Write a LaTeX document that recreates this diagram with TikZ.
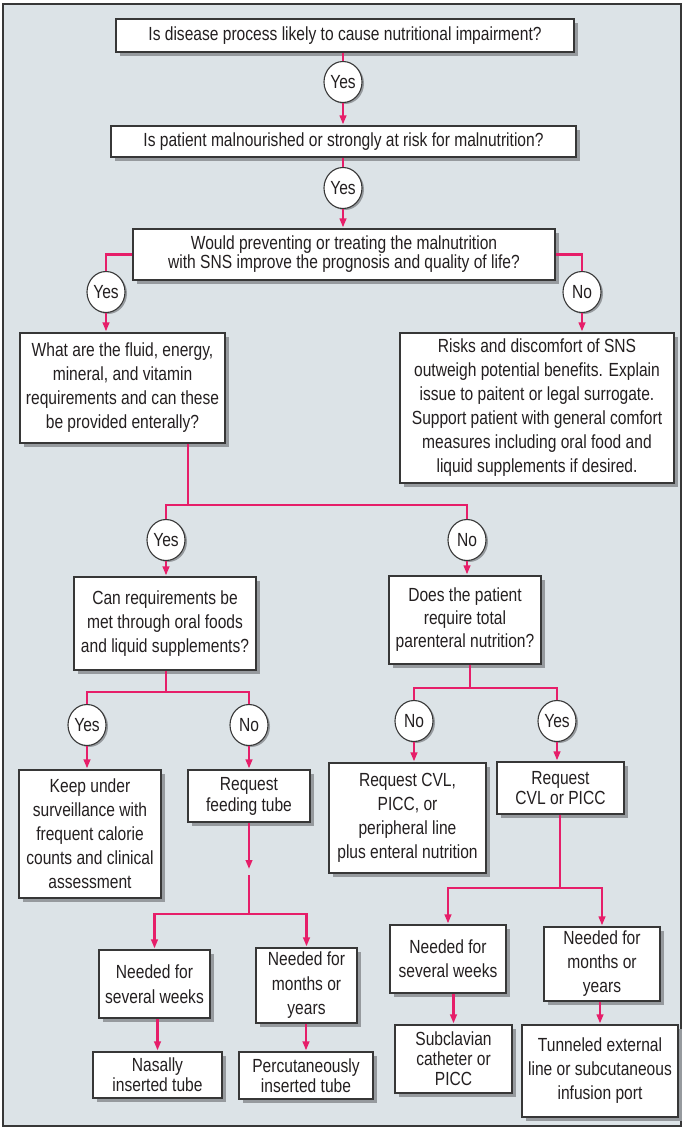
\documentclass[tikz,border=0pt]{standalone}
\usepackage{fontspec}
\setmainfont{Liberation Sans}[FakeStretch=0.82]
\usetikzlibrary{shadows,arrows.meta,shapes.geometric}
\definecolor{panel}{RGB}{220,227,231}
\definecolor{edge}{RGB}{55,55,55}
\definecolor{shade}{RGB}{150,154,158}
\definecolor{flow}{RGB}{230,30,105}
\definecolor{ink}{RGB}{35,31,32}

\tikzset{
  box/.style={draw=edge, line width=1.1pt, fill=white, inner sep=0pt, align=center, text=ink,
    drop shadow={shadow xshift=4pt, shadow yshift=-4pt, fill=shade, opacity=1}},
  lead/.style={font=\fontsize{19}{#1}\selectfont},
  answer/.style={ellipse, draw=edge, line width=1.1pt, fill=white, inner sep=0pt,
    minimum width=38pt, minimum height=41pt, text=ink, font=\fontsize{19}{20}\selectfont,
    drop shadow={shadow xshift=2pt, shadow yshift=-1.5pt, fill=shade, opacity=1}},
  link/.style={draw=flow, line width=2.2pt},
  flowarrow/.style={link, -{Triangle[length=9pt,width=6.5pt]}, shorten >=1pt},
}

\begin{document}
\begin{tikzpicture}[x=1pt,y=-1pt]
\useasboundingbox (0,0) rectangle (684,1128);
% panel
\fill[panel] (3,4) rectangle (681,1126);
\draw[edge, line width=1.4pt] (3,4) rectangle (681,1126);

% question and action boxes
\node[box, lead=20, minimum width=458pt, minimum height=33pt] (b1) at (345,35.5)
  {Is disease process likely to cause nutritional impairment?};
\node[box, lead=20, minimum width=465pt, minimum height=31pt] (b2) at (343.5,141.5)
  {Is patient malnourished or strongly at risk for malnutrition?};
\node[box, lead=19, minimum width=422pt, minimum height=51pt] (b3) at (344,254.5)
  {Would preventing or treating the malnutrition\\with SNS improve the prognosis and quality of life?};
\node[box, lead=24, minimum width=205pt, minimum height=110pt] (b4) at (122.5,388)
  {What are the fluid, energy,\\mineral, and vitamin\\requirements and can these\\be provided enterally?};
\node[box, lead=24, minimum width=274pt, minimum height=150pt] (b5) at (537,408)
  {Risks and discomfort of SNS\\outweigh potential benefits. Explain\\issue to paitent or legal surrogate.\\Support patient with general comfort\\measures including oral food and\\liquid supplements if desired.};
\node[box, lead=24, minimum width=182pt, minimum height=93pt] (b6) at (165,623.5)
  {Can requirements be\\met through oral foods\\and liquid supplements?};
\node[box, lead=23, minimum width=152pt, minimum height=88pt] (b7) at (465,620)
  {Does the patient\\require total\\parenteral nutrition?};
\node[box, lead=24, minimum width=142pt, minimum height=128pt] (b8) at (90,834)
  {Keep under\\surveillance with\\frequent calorie\\counts and clinical\\assessment};
\node[box, lead=21, minimum width=122pt, minimum height=52pt] (b9) at (249,796)
  {Request\\feeding tube};
\node[box, lead=24, minimum width=157pt, minimum height=110pt] (b10) at (407.5,818)
  {Request CVL,\\PICC, or\\peripheral line\\plus enteral nutrition};
\node[box, lead=20, minimum width=127pt, minimum height=52pt] (b11) at (560.5,788)
  {Request\\CVL or PICC};
\node[box, lead=25, minimum width=111pt, minimum height=68pt] (b12) at (154.5,984)
  {Needed for\\several weeks};
\node[box, lead=24.5, minimum width=101pt, minimum height=75pt] (b13) at (306.5,985.5)
  {Needed for\\months or\\years};
\node[box, lead=20, minimum width=129pt, minimum height=46pt] (b14) at (157.5,1075)
  {Nasally\\inserted tube};
\node[box, lead=20, minimum width=134pt, minimum height=47pt] (b15) at (306,1075.5)
  {Percutaneously\\inserted tube};
\node[box, lead=24, minimum width=116pt, minimum height=68pt] (b16) at (448,959)
  {Needed for\\several weeks};
\node[box, lead=24, minimum width=116pt, minimum height=74pt] (b17) at (602,964)
  {Needed for\\months or\\years};
\node[box, lead=20, minimum width=117pt, minimum height=68pt] (b18) at (453.5,1059)
  {Subclavian\\catheter or\\PICC};
\node[box, lead=24, minimum width=156pt, minimum height=92pt] (b19) at (600,1071)
  {Tunneled external\\line or subcutaneous\\infusion port};

% answer ellipses
\node[answer] (y1) at (343,82) {Yes};
\node[answer] (y2) at (343,188) {Yes};
\node[answer] (y3) at (106,292) {Yes};
\node[answer] (n3) at (582,292) {No};
\node[answer] (y4) at (166,540) {Yes};
\node[answer] (n4) at (467,540) {No};
\node[answer] (y5) at (87,725) {Yes};
\node[answer] (n5) at (249,725) {No};
\node[answer] (n6) at (414,721) {No};
\node[answer] (y6) at (557,721) {Yes};

% branch points
\coordinate (j1) at (188,505);
\coordinate (j2) at (166,692);
\coordinate (j3) at (470,688);
\coordinate (ft1) at (249,870);
\coordinate (ft2) at (249,875);
\coordinate (j4) at (249,914);
\coordinate (j5) at (560,888);

% connectors
\draw[link] (y1.north |- b1.south) -- (y1.north);
\draw[flowarrow] (y1.south) -- (y1.south |- b2.north);
\draw[link] (y2.north |- b2.south) -- (y2.north);
\draw[flowarrow] (y2.south) -- (y2.south |- b3.north);

\draw[link] (b3.west) -| (y3.north);
\draw[flowarrow] (y3.south) -- (y3.south |- b4.north);
\draw[link] (b3.east) -| (n3.north);
\draw[flowarrow] (n3.south) -- (n3.south |- b5.north);

\draw[link] (j1 |- b4.south) -- (j1);
\draw[link] (y4.north) -- (y4.north |- j1) -- (n4.north |- j1) -- (n4.north);
\draw[flowarrow] (y4.south) -- (y4.south |- b6.north);
\draw[flowarrow] (n4.south) -- (n4.south |- b7.north);

\draw[link] (j2 |- b6.south) -- (j2);
\draw[link] (y5.north) -- (y5.north |- j2) -- (n5.north |- j2) -- (n5.north);
\draw[flowarrow] (y5.south) -- (y5.south |- b8.north);
\draw[flowarrow] (n5.south) -- (n5.south |- b9.north);

\draw[link] (j3 |- b7.south) -- (j3);
\draw[link] (n6.north) -- (n6.north |- j3) -- (y6.north |- j3) -- (y6.north);
\draw[flowarrow] (n6.south) -- (n6.south |- b10.north);
\draw[flowarrow] (y6.south) -- (y6.south |- b11.north);

\draw[flowarrow] (ft1 |- b9.south) -- (ft1);
\draw[link] (ft2) -- (j4);
\draw[flowarrow] (j4) -| (b12.north);
\draw[flowarrow] (j4) -| (b13.north);
\draw[flowarrow] (b14.north |- b12.south) -- (b14.north);
\draw[flowarrow] (b15.north |- b13.south) -- (b15.north);

\draw[link] (j5 |- b11.south) -- (j5);
\draw[flowarrow] (j5) -| (b16.north);
\draw[flowarrow] (j5) -| (b17.north);
\draw[flowarrow] (b18.north |- b16.south) -- (b18.north);
\draw[flowarrow] (b19.north |- b17.south) -- (b19.north);
\end{tikzpicture}
\end{document}
